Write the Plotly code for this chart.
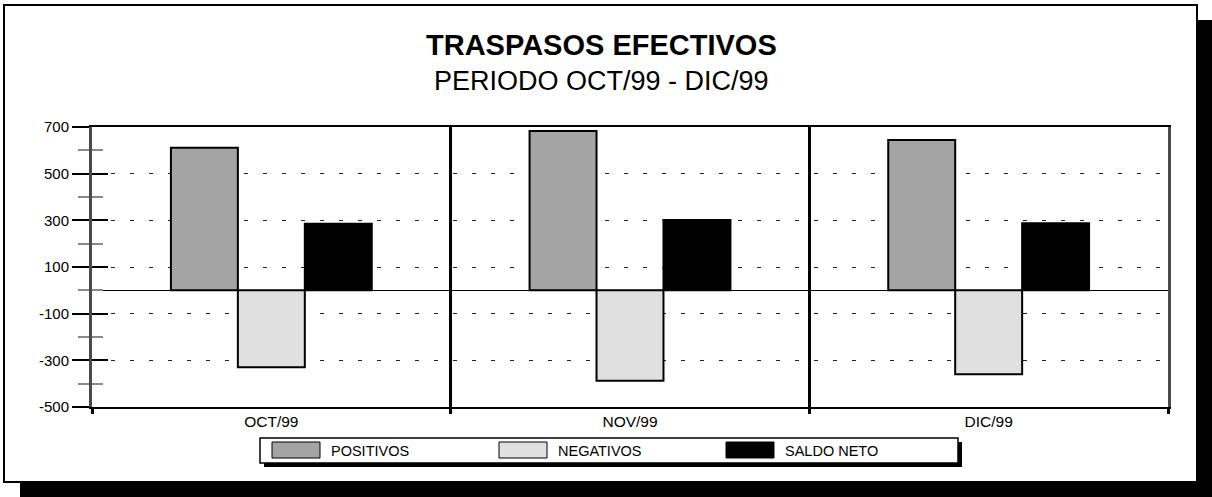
import plotly.graph_objects as go

# ---- data ----
categories = ["OCT/99", "NOV/99", "DIC/99"]
series_names = ["POSITIVOS", "NEGATIVOS", "SALDO NETO"]
positivos = [611, 683, 644]
negativos = [-330, -387, -360]
saldo_neto = [285, 301, 287]
major_ticks = [-500, -300, -100, 100, 300, 500, 700]
major_labels = ["-500", "-300", "-100", "100", "300", "500", "700"]
minor_ticks = [-400, -200, 0, 200, 400, 600]
title_text = "TRASPASOS EFECTIVOS"
subtitle_text = "PERIODO OCT/99 - DIC/99"

# ---- styling ----
colors = ["#a4a4a4", "#e0e0e0", "#000000"]
FONT = "Liberation Sans"
W, H = 1212, 497
L, R, T, B = 92, 44, 127, 90
PW, PH = W - L - R, H - T - B


def px2x(px):
    return (px - L) / PW


def py2y(py):
    return (H - B - py) / PH


fig = go.Figure()
for name, vals, col in zip(series_names, [positivos, negativos, saldo_neto], colors):
    fig.add_trace(go.Bar(
        x=categories, y=vals, name=name,
        marker=dict(color=col, line=dict(color="#000000", width=2)),
        showlegend=False,
    ))
# helper trace so the overlaying axis (inside tick halves) is rendered
fig.add_trace(go.Scatter(x=[categories[0]], y=[0], yaxis="y2", mode="markers",
                         marker=dict(opacity=0), showlegend=False, hoverinfo="skip"))

shapes = []
# outer frame with shadow
shapes.append(dict(type="rect", xref="paper", yref="paper", layer="below",
                   x0=px2x(20), x1=px2x(1213), y0=py2y(20), y1=py2y(498),
                   fillcolor="#000000", line=dict(width=0)))
shapes.append(dict(type="rect", xref="paper", yref="paper", layer="below",
                   x0=px2x(4), x1=px2x(1197), y0=py2y(5), y1=py2y(482),
                   fillcolor="#ffffff", line=dict(color="#000000", width=2)))
# legend box with shadow
shapes.append(dict(type="rect", xref="paper", yref="paper", layer="below",
                   x0=px2x(264), x1=px2x(962), y0=py2y(442), y1=py2y(467),
                   fillcolor="#000000", line=dict(width=0)))
shapes.append(dict(type="rect", xref="paper", yref="paper", layer="below",
                   x0=px2x(260), x1=px2x(958), y0=py2y(438), y1=py2y(463),
                   fillcolor="#ffffff", line=dict(color="#000000", width=1.5)))

annotations = [
    dict(text="<b>" + title_text + "</b>", xref="paper", yref="paper",
         x=px2x(601), y=py2y(45), xanchor="center", yanchor="middle",
         showarrow=False, font=dict(family=FONT, size=29, color="#000000")),
    dict(text=subtitle_text, xref="paper", yref="paper",
         x=px2x(601), y=py2y(81), xanchor="center", yanchor="middle",
         showarrow=False, font=dict(family=FONT, size=27, color="#000000")),
]
for i, (name, col) in enumerate(zip(series_names, colors)):
    sx = 272 + i * 227
    shapes.append(dict(type="rect", xref="paper", yref="paper", layer="above",
                       x0=px2x(sx), x1=px2x(sx + 48), y0=py2y(442), y1=py2y(458),
                       fillcolor=col, line=dict(color="#000000", width=1)))
    annotations.append(dict(text=name, xref="paper", yref="paper",
                            x=px2x(sx + 57), y=py2y(450.5), xanchor="left", yanchor="middle",
                            showarrow=False, font=dict(family=FONT, size=14.5, color="#000000")))

fig.update_layout(
    width=W, height=H,
    margin=dict(l=L, r=R, t=T, b=B),
    paper_bgcolor="#ffffff", plot_bgcolor="rgba(0,0,0,0)",
    barmode="group", bargap=0.44, bargroupgap=0,
    font=dict(family=FONT, size=14, color="#000000"),
    shapes=shapes, annotations=annotations,
    xaxis=dict(type="category", tickson="boundaries", ticks="outside", ticklen=5,
               tickwidth=3, tickcolor="#000000",
               showgrid=True, gridcolor="#000000", gridwidth=3,
               showline=True, linecolor="#000000", linewidth=1.5, mirror=True,
               tickfont=dict(family=FONT, size=15.5)),
    yaxis=dict(range=[-500, 700], tickmode="array", tickvals=major_ticks,
               ticktext=major_labels,
               ticks="outside", ticklen=17, tickwidth=2, tickcolor="#000000",
               minor=dict(tickmode="array", tickvals=minor_ticks, ticks="outside",
                          ticklen=11, tickwidth=2, tickcolor="#8a8a8a", showgrid=False),
               showgrid=True, gridcolor="#222222", gridwidth=1, griddash="4px,15px",
               zeroline=True, zerolinecolor="#000000", zerolinewidth=1,
               showline=True, linecolor="#4a4a4a", linewidth=3, mirror=True,
               tickfont=dict(family=FONT, size=15)),
    yaxis2=dict(range=[-500, 700], overlaying="y", anchor="x", side="left",
                tickmode="array", tickvals=major_ticks, showticklabels=False,
                ticks="inside", ticklen=16, tickwidth=2, tickcolor="#000000",
                minor=dict(tickmode="array", tickvals=minor_ticks, ticks="inside",
                           ticklen=11, tickwidth=2, tickcolor="#8a8a8a", showgrid=False),
                showgrid=False, zeroline=False, showline=False),
)

fig.write_html("out.html", config={"displayModeBar": False},
               post_script="document.body.style.margin='0px';document.body.style.overflow='hidden';")
